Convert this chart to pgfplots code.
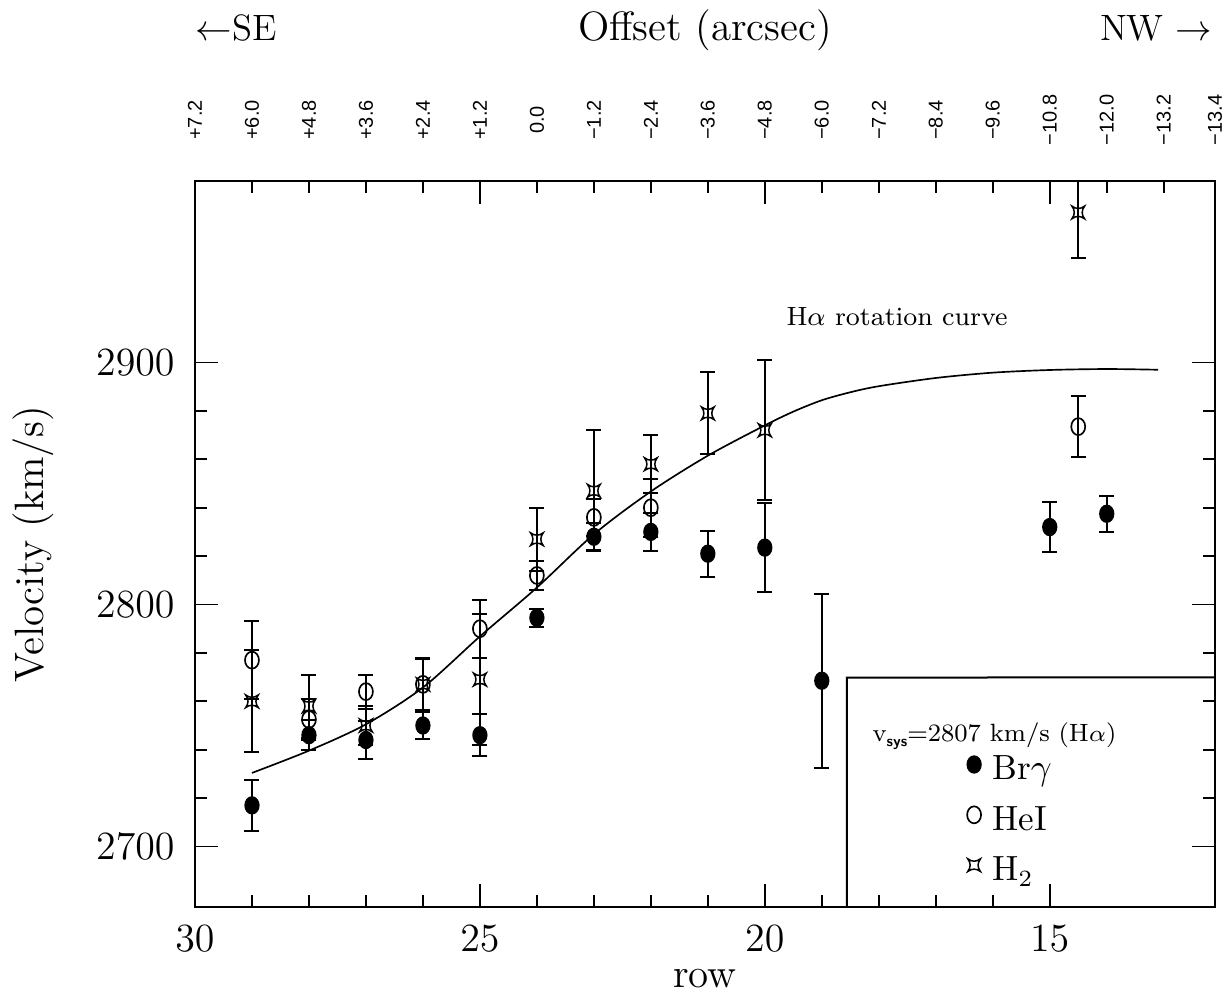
\documentclass[border=0pt]{standalone}
\usepackage{fontspec}
\usepackage{pgfplots}
\pgfplotsset{compat=1.18}
\newfontfamily\sanslabel{Liberation Sans}

\pgfdeclareplotmark{concsq}{%
  \pgfpathmoveto{\pgfqpoint{\pgfplotmarksize}{\pgfplotmarksize}}%
  \pgfpathcurveto{\pgfqpoint{0.5\pgfplotmarksize}{0.35\pgfplotmarksize}}{\pgfqpoint{0.5\pgfplotmarksize}{-0.35\pgfplotmarksize}}{\pgfqpoint{\pgfplotmarksize}{-\pgfplotmarksize}}%
  \pgfpathcurveto{\pgfqpoint{0.35\pgfplotmarksize}{-0.5\pgfplotmarksize}}{\pgfqpoint{-0.35\pgfplotmarksize}{-0.5\pgfplotmarksize}}{\pgfqpoint{-\pgfplotmarksize}{-\pgfplotmarksize}}%
  \pgfpathcurveto{\pgfqpoint{-0.5\pgfplotmarksize}{-0.35\pgfplotmarksize}}{\pgfqpoint{-0.5\pgfplotmarksize}{0.35\pgfplotmarksize}}{\pgfqpoint{-\pgfplotmarksize}{\pgfplotmarksize}}%
  \pgfpathcurveto{\pgfqpoint{-0.35\pgfplotmarksize}{0.5\pgfplotmarksize}}{\pgfqpoint{0.35\pgfplotmarksize}{0.5\pgfplotmarksize}}{\pgfqpoint{\pgfplotmarksize}{\pgfplotmarksize}}%
  \pgfpathclose
  \pgfusepathqstroke
}

\begin{document}
\begin{tikzpicture}
\begin{axis}[
  scale only axis, width=306pt, height=217.8pt,
  xmin=12.1, xmax=30, x dir=reverse,
  ymin=2675, ymax=2975,
  xtick={15,20,25,30}, minor x tick num=4,
  ytick={2700,2800,2900}, minor y tick num=4,
  xtick pos=left,
  tick align=inside,
  major tick length=7pt, minor tick length=3.5pt,
  every tick/.style={line width=0.5pt, black},
  axis line style={line width=0.6pt},
  scaled y ticks=false,
  /pgf/number format/1000 sep={},
  tick label style={font=\fontsize{12}{14}\selectfont},
  xticklabel style={yshift=-2pt},
  yticklabel style={xshift=-2.6pt},
  xlabel={row},
  ylabel={{\addfontfeatures{LetterSpace=17}Velocity (km/s)}},
  xlabel style={at={(axis description cs:0.5,-0.098)}, anchor=center, font=\fontsize{12.3}{14}\selectfont},
  ylabel style={at={(axis description cs:-0.159,0.5)}, anchor=center, font=\fontsize{12.3}{14}\selectfont},
  legend style={draw=none, fill=none, at={(0.757,0.2158)}, anchor=north west,
    inner sep=0pt, outer sep=0pt, row sep=4.2pt, column sep=2.9pt,
    font=\fontsize{10.5}{12}\selectfont, nodes={inner sep=0.5pt}},
  legend cell align=left,
  legend image code/.code={\draw[#1,yshift=1.2pt] plot coordinates {(0pt,0pt)};},
]
% H-alpha rotation curve
\addplot[smooth, line width=0.5pt, black, forget plot] coordinates {
 (29,2730.4) (28,2739.6) (27,2750.5) (26,2765.7) (25,2786.8) (24,2807)
 (23,2829) (22,2846.7) (21,2861.5) (20,2874) (19.5,2879.7) (19,2884.4)
 (18.5,2887.7) (18,2890.2) (17,2893.6) (16,2895.8) (15,2896.9) (14,2897.3) (13.1,2897)};

% Br gamma
\addplot[black, only marks, mark=*, mark size=2.55pt,
  mark options={xscale=0.82, fill=black, draw=black},
  error bars/.cd, y dir=both, y explicit,
  error bar style={line width=0.6pt, black},
  error mark options={rotate=90, mark size=2.25pt, line width=0.6pt, black}]
coordinates {
 (29,2717) +- (0,10.5)
 (28,2746) +- (0,6.3)
 (27,2744) +- (0,8)
 (26,2750) +- (0,5.4)
 (25,2746) +- (0,8.7)
 (24,2794.5) +- (0,3.7)
 (23,2828) +- (0,5.5)
 (22,2830) +- (0,8)
 (21,2821) +- (0,9.5)
 (20,2823.5) +- (0,18.5)
 (19,2768.5) +- (0,36)
 (15,2832) +- (0,10.5)
 (14,2837.5) +- (0,7.5)};
\addlegendentry{\strut Br$\gamma$}

% He I
\addplot[black, only marks, mark=o, mark size=2.55pt,
  mark options={xscale=0.82, draw=black, line width=0.5pt},
  error bars/.cd, y dir=both, y explicit,
  error bar style={line width=0.6pt, black},
  error mark options={rotate=90, mark size=2.25pt, line width=0.6pt, black}]
coordinates {
 (29,2777) +- (0,16)
 (28,2752.5) +- (0,8.6)
 (27,2764) +- (0,7)
 (26,2767) +- (0,11)
 (25,2790) +- (0,12)
 (24,2812) +- (0,6)
 (23,2836) +- (0,7.5)
 (22,2840) +- (0,12)
 (14.5,2873.5) +- (0,12.5)};
\addlegendentry{\strut HeI}

% H2
\addplot[black, only marks, mark=concsq, mark size=1.9pt,
  mark options={draw=black, line width=0.45pt},
  error bars/.cd, y dir=both, y explicit,
  error bar style={line width=0.6pt, black},
  error mark options={rotate=90, mark size=2.25pt, line width=0.6pt, black}]
coordinates {
 (29,2760) +- (0,21)
 (28,2758) +- (0,13)
 (27,2750) +- (0,8)
 (26,2767) +- (0,10.5)
 (25,2769) +- (0,27)
 (24,2827) +- (0,13)
 (23,2847) +- (0,25)
 (22,2858) +- (0,12)
 (21,2879) +- (0,17)
 (20,2872) +- (0,29)
 (14.5,2962) +- (0,19)};
\addlegendentry{\strut H$_2$}

\node[font=\fontsize{7.9}{10}\selectfont] at (axis cs:17.68,2919) {H$\alpha$ rotation curve};
\draw[line width=0.6pt] (axis cs:18.56,2675) -- (axis cs:18.56,2769.8) -- (rel axis cs:1,0.3163);
\node[anchor=base west, inner sep=0pt, font=\fontsize{7.5}{9}\selectfont] at (axis cs:18.12,2743.4)
  {v\raisebox{-0.45ex}{\fontsize{4.6}{5}\selectfont\sffamily\bfseries sys}=2807 km/s (H$\alpha$)};
\end{axis}

\begin{axis}[
  scale only axis, width=306pt, height=217.8pt,
  xmin=12.1, xmax=30, x dir=reverse, ymin=0, ymax=1,
  axis x line*=top, axis y line=none,
  clip=false,
  tick align=inside,
  xtick={30,29,28,27,26,25,24,23,22,21,20,19,18,17,16,15,14,13,12.1},
  xticklabels={+7.2,+6.0,+4.8,+3.6,+2.4,+1.2,0.0,−1.2,−2.4,−3.6,−4.8,−6.0,−7.2,−8.4,−9.6,−10.8,−12.0,−13.2,−13.4},
  major tick length=3.5pt,
  every tick/.style={line width=0.5pt, black},
  axis line style={line width=0.6pt},
  extra x ticks={25,20,15,14.5},
  extra x tick labels={},
  extra x tick style={major tick length=7pt},
  xticklabel style={font=\sanslabel\fontsize{6}{7}\selectfont, yshift=18.3pt, rotate=90, anchor=center},
]
\addplot[draw=none, forget plot] coordinates {(20,0.5)};
\node[anchor=base, font=\fontsize{12.3}{14}\selectfont] at (axis description cs:0.5,1.193) {{\addfontfeatures{LetterSpace=10}Offset (arcsec)}};
\node[anchor=base west, inner sep=0pt, font=\fontsize{11}{13}\selectfont] at (axis description cs:0,1.193) {$\leftarrow$SE};
\node[anchor=base east, inner sep=0pt, font=\fontsize{11}{13}\selectfont] at (axis description cs:0.998,1.193) {NW $\rightarrow$};
\end{axis}
\pgfresetboundingbox
\path[use as bounding box] ([shift={(-58.5pt,-27.6pt)}]current axis.south west) rectangle ([shift={(4.5pt,54.3pt)}]current axis.north east);
\end{tikzpicture}
\end{document}
